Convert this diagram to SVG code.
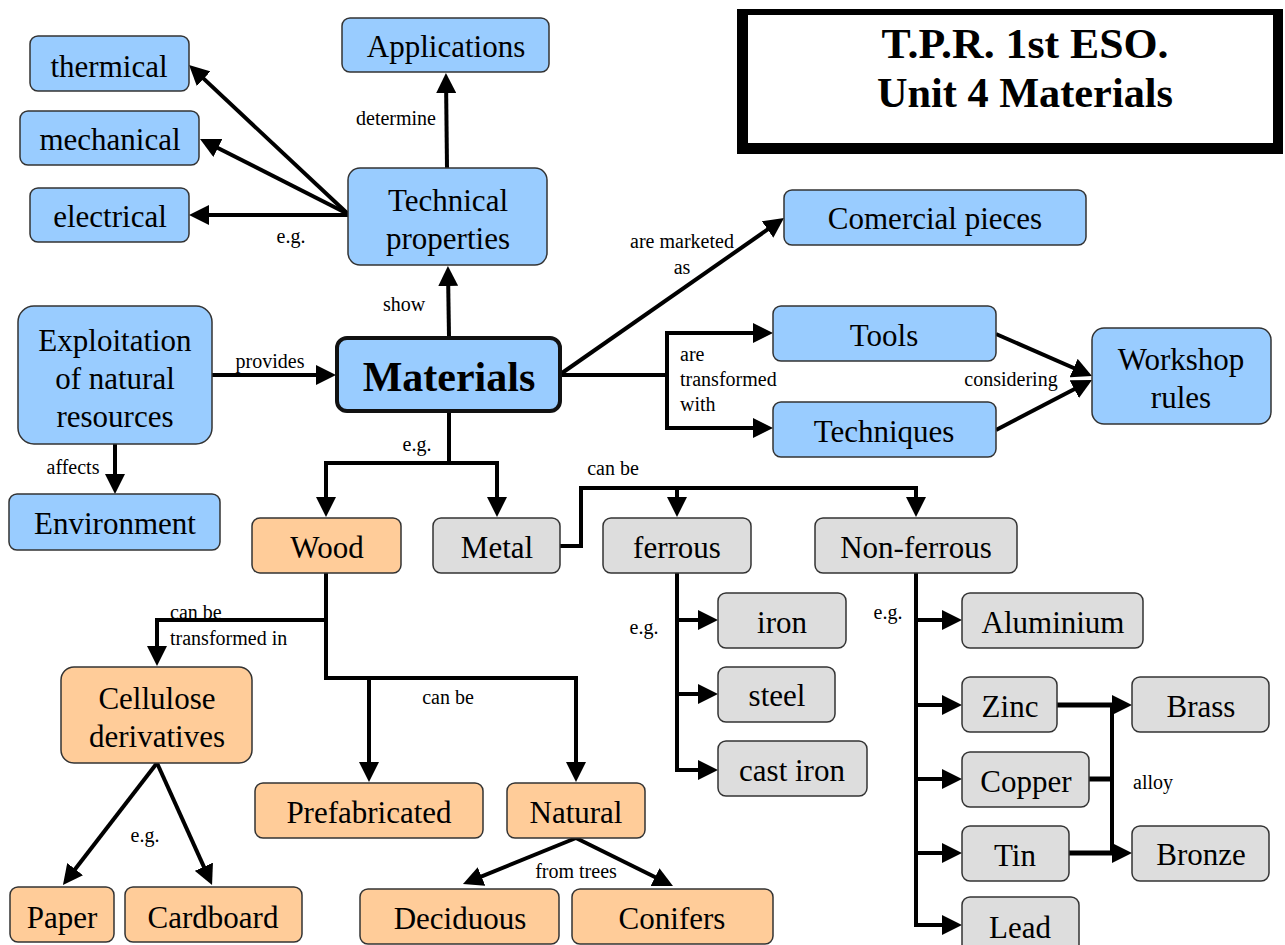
<svg xmlns="http://www.w3.org/2000/svg" width="1285" height="945" viewBox="0 0 1285 945">
<style>
.b rect{fill:#99ccff;stroke:#333;stroke-width:1.5}
.o rect{fill:#ffcc99;stroke:#333;stroke-width:1.5}
.g rect{fill:#dddddd;stroke:#333;stroke-width:1.5}
text{font-family:"Liberation Serif","Times New Roman",serif;fill:#000}
.n text{font-size:31px;text-anchor:middle}
.lbl{font-size:20px;text-anchor:middle}
.lbll{font-size:20px;text-anchor:start}
#conn path,#conn polyline,#conn line{fill:none;stroke:#000;stroke-width:4;stroke-linejoin:miter}
.a{marker-end:url(#ah)}
</style>
<defs>
<marker id="ah" viewBox="0 0 20 20" refX="15" refY="10" markerWidth="20" markerHeight="20" markerUnits="userSpaceOnUse" orient="auto">
<path d="M0,0 L20,10 L0,20 z" fill="#000"/>
</marker>
</defs>
<rect width="1285" height="945" fill="#fff"/>

<g id="title">
<rect x="737" y="9" width="546" height="145" fill="#000"/>
<rect x="748" y="15" width="525" height="128" fill="#fff"/>
<text x="1025" y="58" font-size="42" font-weight="bold" text-anchor="middle" textLength="287" lengthAdjust="spacingAndGlyphs">T.P.R. 1st ESO.</text>
<text x="1025" y="107" font-size="42" font-weight="bold" text-anchor="middle" textLength="296" lengthAdjust="spacingAndGlyphs">Unit 4 Materials</text>
</g>

<g id="conn">
<line class="a" x1="348" y1="214" x2="192.7" y2="68.4"/>
<line class="a" x1="348" y1="214" x2="204.5" y2="141.2"/>
<line class="a" x1="348" y1="215" x2="194" y2="215"/>
<line class="a" x1="447" y1="168" x2="446" y2="78"/>
<line class="a" x1="449" y1="337" x2="448" y2="271"/>
<line class="a" x1="212" y1="375" x2="331" y2="375"/>
<line class="a" x1="115" y1="444" x2="115" y2="489"/>
<line class="a" x1="562" y1="373" x2="779.9" y2="220.9"/>
<polyline class="a" points="560,375 667,375 667,333 768,333"/>
<polyline class="a" points="667,374 667,428 768,428"/>
<line class="a" x1="996" y1="334" x2="1087.4" y2="374"/>
<line class="a" x1="996" y1="430" x2="1087.6" y2="382.3"/>
<polyline class="a" points="449,412 449,463 326,463 326,512"/>
<polyline class="a" points="448,463 497,463 497,512"/>
<polyline class="a" points="560,546 581,546 581,488 677,488 677,512"/>
<polyline class="a" points="676,488 916,488 916,512"/>
<polyline class="a" points="677,573 677,770 713,770"/>
<line class="a" x1="677" y1="620" x2="713" y2="620"/>
<line class="a" x1="677" y1="694" x2="713" y2="694"/>
<polyline class="a" points="916,573 916,925 957,925"/>
<line class="a" x1="916" y1="620" x2="957" y2="620"/>
<line class="a" x1="916" y1="705" x2="957" y2="705"/>
<line class="a" x1="916" y1="779" x2="957" y2="779"/>
<line class="a" x1="916" y1="853" x2="957" y2="853"/>
<line x1="1057" y1="705" x2="1112" y2="705" style="stroke-width:5"/>
<line x1="1089" y1="779" x2="1112" y2="779" style="stroke-width:5"/>
<line x1="1069" y1="853" x2="1112" y2="853" style="stroke-width:5"/>
<line x1="1112" y1="703" x2="1112" y2="855"/>
<line class="a" x1="1110" y1="705" x2="1127" y2="705"/>
<line class="a" x1="1110" y1="853" x2="1127" y2="853"/>
<polyline class="a" points="326,573 326,678 576,678 576,777"/>
<polyline class="a" points="326,620 157,620 157,661"/>
<line class="a" x1="369" y1="676" x2="369" y2="777"/>
<line class="a" x1="157" y1="763" x2="66" y2="881"/>
<line class="a" x1="157" y1="763" x2="210" y2="880.4"/>
<line class="a" x1="576" y1="838" x2="467.6" y2="882.1"/>
<line class="a" x1="576" y1="838" x2="668.5" y2="883.8"/>
<text class="lbl" x="396" y="125">determine</text>
<text class="lbl" x="291" y="243">e.g.</text>
<text class="lbl" x="404" y="311">show</text>
<text class="lbl" x="682" y="248">are marketed</text>
<text class="lbl" x="682" y="274">as</text>
<text class="lbl" x="270" y="368">provides</text>
<text class="lbl" x="73" y="474">affects</text>
<text class="lbl" x="417" y="451">e.g.</text>
<text class="lbll" x="680" y="361">are</text>
<text class="lbll" x="680" y="386">transformed</text>
<text class="lbll" x="680" y="411">with</text>
<text class="lbl" x="1011" y="386">considering</text>
<text class="lbl" x="613" y="475">can be</text>
<text class="lbll" x="170" y="619">can be</text>
<text class="lbll" x="170" y="645">transformed in</text>
<text class="lbl" x="448" y="704">can be</text>
<text class="lbl" x="145" y="842">e.g.</text>
<text class="lbl" x="576" y="878">from trees</text>
<text class="lbl" x="644" y="634">e.g.</text>
<text class="lbl" x="888" y="619">e.g.</text>
<text class="lbl" x="1153" y="789">alloy</text>
</g>

<g id="thermical" class="n b"><rect x="30" y="36" width="159" height="55" rx="8"/><text x="109" y="77">thermical</text></g>
<g id="mechanical" class="n b"><rect x="20" y="111" width="179" height="54" rx="8"/><text x="110" y="150">mechanical</text></g>
<g id="electrical" class="n b"><rect x="30" y="188" width="159" height="54" rx="8"/><text x="110" y="227">electrical</text></g>
<g id="applications" class="n b"><rect x="342" y="18" width="207" height="54" rx="8"/><text x="446" y="57">Applications</text></g>
<g id="technical" class="n b"><rect x="348" y="168" width="199" height="97" rx="12"/><text x="448" y="211">Technical</text><text x="448" y="249">properties</text></g>
<g id="comercial" class="n b"><rect x="784" y="190" width="302" height="55" rx="8"/><text x="935" y="229">Comercial pieces</text></g>
<g id="exploitation" class="n b"><rect x="18" y="306" width="194" height="138" rx="16"/><text x="115" y="351">Exploitation</text><text x="115" y="389">of natural</text><text x="115" y="427">resources</text></g>
<g id="materials" class="b"><rect x="337" y="338" width="223" height="73" rx="10" style="stroke:#111;stroke-width:4"/><text x="449" y="391" font-size="42" font-weight="bold" text-anchor="middle">Materials</text></g>
<g id="environment" class="n b"><rect x="9" y="494" width="211" height="56" rx="8"/><text x="115" y="534">Environment</text></g>
<g id="tools" class="n b"><rect x="773" y="306" width="223" height="55" rx="8"/><text x="884" y="346">Tools</text></g>
<g id="techniques" class="n b"><rect x="773" y="402" width="223" height="55" rx="8"/><text x="884" y="442">Techniques</text></g>
<g id="workshop" class="n b"><rect x="1092" y="328" width="179" height="96" rx="12"/><text x="1181" y="370">Workshop</text><text x="1181" y="408">rules</text></g>

<g id="wood" class="n o"><rect x="252" y="518" width="149" height="55" rx="8"/><text x="327" y="558">Wood</text></g>
<g id="metal" class="n g"><rect x="433" y="518" width="127" height="55" rx="8"/><text x="497" y="558">Metal</text></g>
<g id="ferrous" class="n g"><rect x="603" y="518" width="148" height="55" rx="8"/><text x="677" y="558">ferrous</text></g>
<g id="nonferrous" class="n g"><rect x="815" y="518" width="202" height="55" rx="8"/><text x="916" y="558">Non-ferrous</text></g>

<g id="iron" class="n g"><rect x="718" y="593" width="128" height="55" rx="8"/><text x="782" y="633">iron</text></g>
<g id="steel" class="n g"><rect x="718" y="667" width="117" height="55" rx="8"/><text x="777" y="706">steel</text></g>
<g id="castiron" class="n g"><rect x="718" y="741" width="149" height="55" rx="8"/><text x="792" y="781">cast iron</text></g>
<g id="aluminium" class="n g"><rect x="962" y="593" width="181" height="55" rx="8"/><text x="1053" y="633">Aluminium</text></g>
<g id="zinc" class="n g"><rect x="962" y="677" width="95" height="55" rx="8"/><text x="1010" y="717">Zinc</text></g>
<g id="copper" class="n g"><rect x="962" y="752" width="127" height="55" rx="8"/><text x="1026" y="792">Copper</text></g>
<g id="tin" class="n g"><rect x="962" y="826" width="107" height="55" rx="8"/><text x="1015" y="866">Tin</text></g>
<g id="lead" class="n g"><rect x="962" y="897" width="117" height="60" rx="8"/><text x="1020" y="938">Lead</text></g>
<g id="brass" class="n g"><rect x="1132" y="677" width="137" height="55" rx="8"/><text x="1201" y="717">Brass</text></g>
<g id="bronze" class="n g"><rect x="1132" y="826" width="137" height="55" rx="8"/><text x="1201" y="865">Bronze</text></g>

<g id="cellulose" class="n o"><rect x="61" y="667" width="191" height="96" rx="13"/><text x="157" y="709">Cellulose</text><text x="157" y="747">derivatives</text></g>
<g id="prefabricated" class="n o"><rect x="255" y="783" width="228" height="55" rx="8"/><text x="369" y="823">Prefabricated</text></g>
<g id="natural" class="n o"><rect x="507" y="783" width="138" height="55" rx="8"/><text x="576" y="823">Natural</text></g>
<g id="paper" class="n o"><rect x="10" y="887" width="104" height="55" rx="8"/><text x="62" y="928">Paper</text></g>
<g id="cardboard" class="n o"><rect x="125" y="887" width="177" height="55" rx="8"/><text x="213" y="928">Cardboard</text></g>
<g id="deciduous" class="n o"><rect x="360" y="889" width="199" height="55" rx="8"/><text x="460" y="929">Deciduous</text></g>
<g id="conifers" class="n o"><rect x="572" y="889" width="201" height="55" rx="8"/><text x="672" y="929">Conifers</text></g>
</svg>
